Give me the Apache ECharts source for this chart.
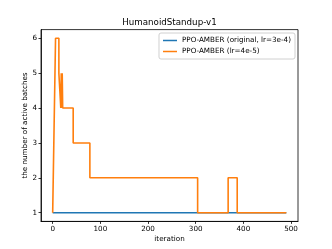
<!DOCTYPE html>
<html>
<head>
<meta charset="utf-8">
<script src="https://cdn.jsdelivr.net/npm/echarts@6/dist/echarts.min.js"></script>
<style>
html,body{margin:0;padding:0;background:#fff;}
#c{width:332px;height:249px;}
</style>
</head>
<body>
<div id="c"></div>
<script>
// Data
const titleText = 'HumanoidStandup-v1';
const seriesNames = ['PPO-AMBER (original, lr=3e-4)', 'PPO-AMBER (lr=4e-5)'];
const xTicks = [0, 100, 200, 300, 400, 500];
const yTicks = [1, 2, 3, 4, 5, 6];

const origIter = [0, 490];
const origVal  = [1, 1];

const lowIter = [0, 6, 13, 13, 17, 17, 18, 18, 19, 19, 20, 20, 21, 21, 22, 43, 43, 78, 78, 304, 304, 368, 368, 387, 387, 490];
const lowVal  = [1, 6, 6,  5,  5,  4,  4,  5,  5,  4,  4,  5,  5,  4,  4,  4,  3,  3,  2,  2,   1,   1,   2,   2,   1,   1];

const zip = (xs, ys) => xs.map((x, i) => [x, ys[i]]);

const font = 'DejaVu Sans';
const chart = echarts.init(document.getElementById('c'), null, {renderer: 'canvas'});
chart.setOption({
  animation: false,
  backgroundColor: '#fff',
  title: {
    text: titleText,
    left: 169.5, textAlign: 'center',
    top: 18, padding: 0,
    textStyle: {fontFamily: font, fontSize: 8.7, fontWeight: 'normal', color: '#000'}
  },
  legend: {
    orient: 'vertical',
    right: 37, top: 33,
    padding: [3, 4, 3, 4],
    backgroundColor: '#fff',
    borderColor: '#d0d0d0', borderWidth: 1, borderRadius: 2,
    icon: 'rect', itemWidth: 14, itemHeight: 1.5, itemGap: 2,
    textStyle: {fontFamily: font, fontSize: 7.2, color: '#000', lineHeight: 9},
    data: seriesNames
  },
  grid: {
    left: 41, right: 34, top: 29.6, bottom: 27.6,
    show: true, borderColor: '#000', borderWidth: 0.8, backgroundColor: 'transparent'
  },
  xAxis: {
    type: 'value', min: -24.5, max: 514.5,
    name: 'iteration', nameLocation: 'middle', nameGap: 14, nameMoveOverlap: false,
    nameTextStyle: {fontFamily: font, fontSize: 7.2, color: '#000'},
    axisLine: {show: true, onZero: false, lineStyle: {color: '#000', width: 0.8}},
    axisTick: {show: true, length: 2.5, customValues: xTicks, lineStyle: {color: '#000', width: 0.8}},
    axisLabel: {customValues: xTicks, margin: 4, fontFamily: font, fontSize: 7.2, color: '#000'},
    splitLine: {show: false}
  },
  yAxis: {
    type: 'value', min: 0.75, max: 6.25,
    name: 'the number of active batches', nameLocation: 'middle', nameGap: 12, nameRotate: 90, nameMoveOverlap: false,
    nameTextStyle: {fontFamily: font, fontSize: 7.2, color: '#000'},
    axisLine: {show: true, onZero: false, lineStyle: {color: '#000', width: 0.8}},
    axisTick: {show: true, length: 2.5, customValues: yTicks, lineStyle: {color: '#000', width: 0.8}},
    axisLabel: {customValues: yTicks, margin: 4, fontFamily: font, fontSize: 7.2, color: '#000'},
    splitLine: {show: false}
  },
  series: [
    {
      name: seriesNames[0], type: 'line', showSymbol: false, symbol: 'none',
      color: '#1f77b4', lineStyle: {color: '#1f77b4', width: 1.6},
      data: zip(origIter, origVal), z: 2
    },
    {
      name: seriesNames[1], type: 'line', showSymbol: false, symbol: 'none',
      color: '#ff7f0e', lineStyle: {color: '#ff7f0e', width: 1.6},
      data: zip(lowIter, lowVal), z: 3
    }
  ]
});
</script>
</body>
</html>
